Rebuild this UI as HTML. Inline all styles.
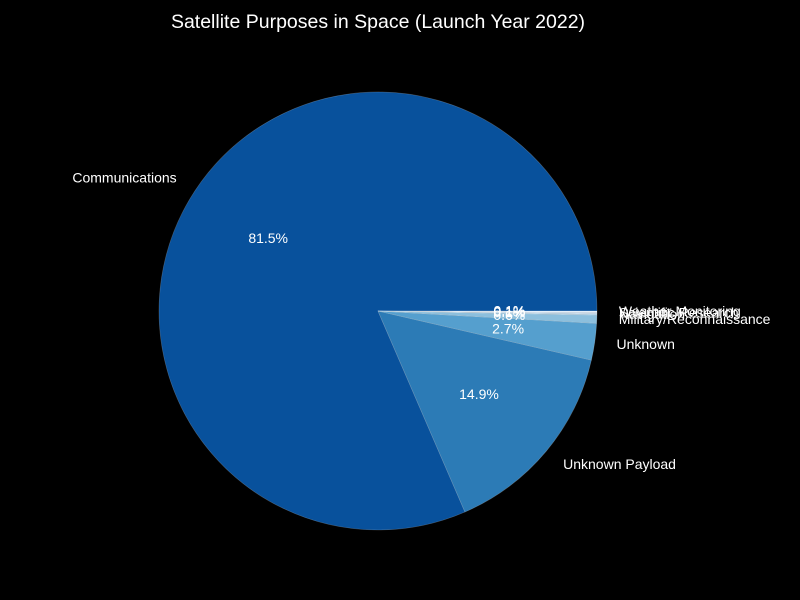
<!DOCTYPE html>
<html><head><meta charset="utf-8"><style>
html,body{margin:0;padding:0;background:#000;}
svg{display:block;}
text{font-family:"Liberation Sans",sans-serif;fill:#fff;}
</style></head><body>
<svg id="chart" width="800" height="600">
<rect width="800" height="600" fill="#000"/>
<text x="378" y="28" text-anchor="middle" font-size="19.5">Satellite Purposes in Space (Launch Year 2022)</text>
<g id="slices"></g><g id="labels"></g>
</svg>
<script>
const categories = ["Communications","Unknown Payload","Unknown","Military/Reconnaissance","Navigation","Scientific Research","Weather Monitoring"];
const values = [81.5,14.9,2.7,0.6,0.1,0.1,0.1];
const colors = ["#08519c","#2c7bb6","#559fce","#8cbfdd","#b3d3e8","#cfe1f2","#e3eef9"];
const cx=378, cy=311, r=219;
const total = values.reduce((a,b)=>a+b,0);
const NS="http://www.w3.org/2000/svg";
const gS=document.getElementById('slices'), gL=document.getElementById('labels');
let a0=0;
values.forEach((v,i)=>{
  const a1=a0+v/total*2*Math.PI;
  const x0=cx+r*Math.cos(a0), y0=cy-r*Math.sin(a0);
  const x1=cx+r*Math.cos(a1), y1=cy-r*Math.sin(a1);
  const large=(a1-a0)>Math.PI?1:0;
  const p=document.createElementNS(NS,'path');
  p.setAttribute('d',`M${cx},${cy} L${x0},${y0} A${r},${r} 0 ${large} 0 ${x1},${y1} Z`);
  p.setAttribute('fill',colors[i]);
  p.setAttribute('stroke','rgba(255,255,255,0.25)');
  p.setAttribute('stroke-width','0.6');
  
  
  gS.appendChild(p);
  const am=(a0+a1)/2;
  const lx=cx+1.1*r*Math.cos(am), ly=cy-1.1*r*Math.sin(am);
  const t=document.createElementNS(NS,'text');
  t.setAttribute('x',lx); t.setAttribute('y',ly+4);
  t.setAttribute('font-size','14');
  t.setAttribute('text-anchor',Math.cos(am)>=0?'start':'end');
  t.textContent=categories[i];
  
  
  gL.appendChild(t);
  const px=cx+0.6*r*Math.cos(am), py=cy-0.6*r*Math.sin(am);
  const pt=document.createElementNS(NS,'text');
  pt.setAttribute('x',px); pt.setAttribute('y',py+4);
  pt.setAttribute('font-size','14');
  pt.setAttribute('text-anchor','middle');
  pt.textContent=v.toFixed(1)+'%';
  
  
  gL.appendChild(pt);
  a0=a1;
});
</script>
</body></html>
